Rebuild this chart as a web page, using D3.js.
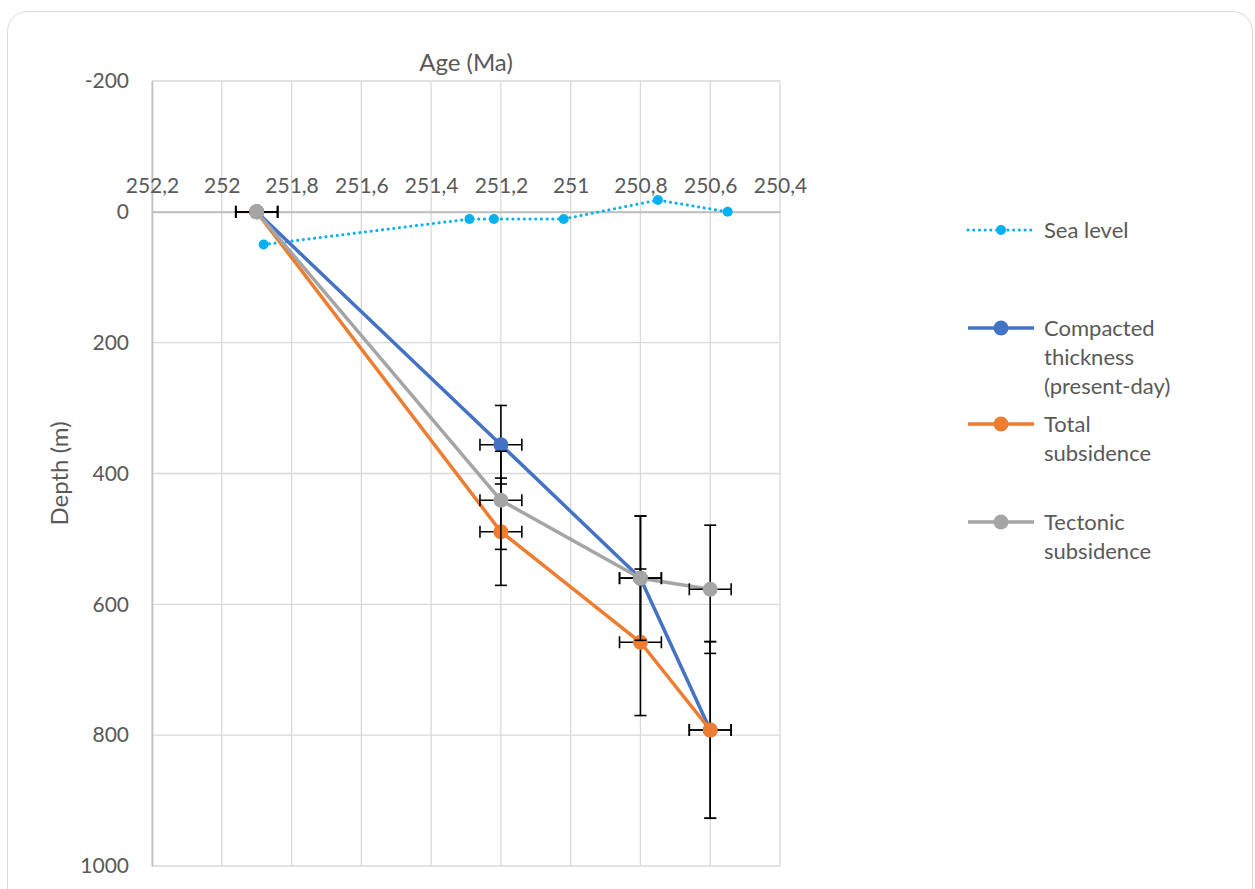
<!DOCTYPE html>
<html lang="en">
<head>
<meta charset="utf-8"/>
<title>Subsidence curve</title>
<script src="https://d3js.org/d3.v7.min.js"></script>
<style>
  body { margin: 0; background: #fff; }
  text { font-family: Lato, "Open Sans", sans-serif; fill: #595959; }
</style>
</head>
<body>
<script>
// chart values
var ages      = [251.9, 251.2, 250.8, 250.6];
var compacted = [0, 356, 560, 792];
var totalSub  = [0, 489, 658, 792];
var tectonic  = [0, 441, 560, 577];
var compErr   = [0, 60, 95, 135];
var totalErr  = [0, 82, 112, 135];
var tectErr   = [0, 75, 95, 98];
var ageErr    = [0.06, 0.06, 0.06, 0.06];

var seaAges  = [251.88, 251.29, 251.22, 251.02, 250.75, 250.55];
var seaLevel = [50, 11, 11, 11, -18, 0];

var xTicks = [252.2, 252, 251.8, 251.6, 251.4, 251.2, 251, 250.8, 250.6, 250.4];
var yTicks = [-200, 0, 200, 400, 600, 800, 1000];

var w = 1255, h = 889;
var plotL = 152, plotR = 780, plotT = 81, plotB = 866;

var x = d3.scaleLinear().domain([252.2, 250.4]).range([plotL, plotR]);
var y = d3.scaleLinear().domain([-200, 1000]).range([plotT, plotB]);

var svg = d3.select("body").append("svg")
    .attr("width", w)
    .attr("height", h);

// chart frame
svg.append("rect")
    .attr("x", 7.5).attr("y", 11.5)
    .attr("width", 1245).attr("height", 900)
    .attr("rx", 20)
    .style("fill", "#fff")
    .style("stroke", "#d9d9d9")
    .style("stroke-width", 1);

// gridlines
svg.append("g")
    .selectAll("line")
    .data(xTicks)
    .enter().append("line")
    .attr("x1", function(d) { return x(d); })
    .attr("x2", function(d) { return x(d); })
    .attr("y1", plotT).attr("y2", plotB)
    .style("stroke", "#d9d9d9").style("stroke-width", 1.3);

svg.append("g")
    .selectAll("line")
    .data(yTicks)
    .enter().append("line")
    .attr("x1", plotL).attr("x2", plotR)
    .attr("y1", function(d) { return y(d); })
    .attr("y2", function(d) { return y(d); })
    .style("stroke", "#d9d9d9").style("stroke-width", 1.3);

// y axis (left) and x axis (at depth 0)
var yAxis = svg.append("g")
    .attr("transform", "translate(" + plotL + ",0)")
    .call(d3.axisLeft(y).tickValues(yTicks).tickSize(0).tickPadding(23)
        .tickFormat(function(d) { return String(d); }));
yAxis.select(".domain").style("stroke", "#bfbfbf").style("stroke-width", 1.5);
yAxis.selectAll("text").style("font-size", "21px").style("fill", "#595959")
    .style("font-family", "Lato, 'Open Sans', sans-serif");

var xAxis = svg.append("g")
    .attr("transform", "translate(0," + y(0) + ")")
    .call(d3.axisTop(x).tickValues(xTicks).tickSize(0).tickPadding(19)
        .tickFormat(function(d) { return String(d).replace(".", ","); }));
xAxis.select(".domain").style("stroke", "#bfbfbf").style("stroke-width", 2);
xAxis.selectAll("text").style("font-size", "21px").style("fill", "#595959")
    .style("font-family", "Lato, 'Open Sans', sans-serif");

// axis titles
svg.append("text")
    .attr("x", (plotL + plotR) / 2).attr("y", 71)
    .attr("text-anchor", "middle")
    .style("font-size", "24px")
    .text("Age (Ma)");

svg.append("text")
    .attr("transform", "translate(68," + (plotT + plotB) / 2 + ") rotate(-90)")
    .attr("text-anchor", "middle")
    .style("font-size", "24px")
    .text("Depth (m)");

// sea level (dotted)
var seaData = seaAges.map(function(a, i) { return [a, seaLevel[i]]; });
var line = d3.line()
    .x(function(d) { return x(d[0]); })
    .y(function(d) { return y(d[1]); });

svg.append("path")
    .datum(seaData)
    .attr("d", line)
    .style("fill", "none")
    .style("stroke", "#00b0f0")
    .style("stroke-width", 3)
    .style("stroke-linecap", "round")
    .style("stroke-dasharray", "0.1,5.6");

svg.selectAll("circle.sea")
    .data(seaData)
    .enter().append("circle")
    .attr("class", "sea")
    .attr("cx", function(d) { return x(d[0]); })
    .attr("cy", function(d) { return y(d[1]); })
    .attr("r", 5)
    .style("fill", "#00b0f0");

// subsidence series with error bars
var series = [
    { name: "compacted", vals: compacted, err: compErr, color: "#4472c4" },
    { name: "total", vals: totalSub, err: totalErr, color: "#ed7d31" },
    { name: "tectonic", vals: tectonic, err: tectErr, color: "#a5a5a5" }
];

series.forEach(function(s) {
    var pts = ages.map(function(a, i) { return [a, s.vals[i], s.err[i], ageErr[i]]; });
    var g = svg.append("g");

    g.append("path")
        .datum(pts)
        .attr("d", line)
        .style("fill", "none")
        .style("stroke", s.color)
        .style("stroke-width", 3.5)
        .style("stroke-linejoin", "round");

    var eb = g.append("g").style("stroke", "#000").style("stroke-width", 1.6);
    pts.forEach(function(p) {
        var cx = x(p[0]), cy = y(p[1]);
        // vertical error bar
        if (p[2] > 0) {
            var y1 = y(p[1] - p[2]), y2 = y(p[1] + p[2]);
            eb.append("line").attr("x1", cx).attr("x2", cx).attr("y1", y1).attr("y2", y2);
            eb.append("line").attr("x1", cx - 6).attr("x2", cx + 6).attr("y1", y1).attr("y2", y1);
            eb.append("line").attr("x1", cx - 6).attr("x2", cx + 6).attr("y1", y2).attr("y2", y2);
        }
        // horizontal error bar
        var x1 = x(p[0] + p[3]), x2 = x(p[0] - p[3]);
        eb.append("line").attr("x1", x1).attr("x2", x2).attr("y1", cy).attr("y2", cy);
        eb.append("line").attr("x1", x1).attr("x2", x1).attr("y1", cy - 6).attr("y2", cy + 6);
        eb.append("line").attr("x1", x2).attr("x2", x2).attr("y1", cy - 6).attr("y2", cy + 6);
    });

    g.selectAll("circle")
        .data(pts)
        .enter().append("circle")
        .attr("cx", function(d) { return x(d[0]); })
        .attr("cy", function(d) { return y(d[1]); })
        .attr("r", 7.5)
        .style("fill", s.color);
});

// legend
var legend = [
    { label: ["Sea level"], color: "#00b0f0", dotted: true, y: 230 },
    { label: ["Compacted", "thickness", "(present-day)"], color: "#4472c4", y: 328 },
    { label: ["Total", "subsidence"], color: "#ed7d31", y: 424 },
    { label: ["Tectonic", "subsidence"], color: "#a5a5a5", y: 522 }
];

legend.forEach(function(l) {
    var g = svg.append("g").attr("transform", "translate(0," + l.y + ")");
    g.append("line")
        .attr("x1", 968).attr("x2", 1034).attr("y1", 0).attr("y2", 0)
        .style("stroke", l.color)
        .style("stroke-width", l.dotted ? 3 : 3.5)
        .style("stroke-linecap", l.dotted ? "round" : "butt")
        .style("stroke-dasharray", l.dotted ? "0.1,5.6" : null);
    g.append("circle")
        .attr("cx", 1001).attr("cy", 0)
        .attr("r", l.dotted ? 5 : 7.5)
        .style("fill", l.color);
    l.label.forEach(function(t, i) {
        g.append("text")
            .attr("x", 1044).attr("y", i * 29 + 8)
            .style("font-size", "22px")
            .text(t);
    });
});
</script>
</body>
</html>
